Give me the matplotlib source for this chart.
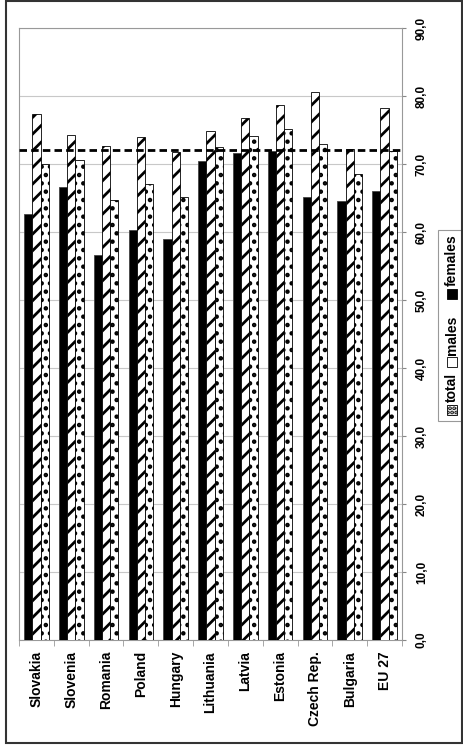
import matplotlib.pyplot as plt
import matplotlib.patches as mpatches
import numpy as np

# Data
countries = ['Slovakia', 'Slovenia', 'Romania', 'Poland', 'Hungary', 'Lithuania',
             'Latvia', 'Estonia', 'Czech Rep.', 'Bulgaria', 'EU 27']
females = [62.6, 66.6, 56.6, 60.3, 58.9, 70.4, 71.6, 71.9, 65.2, 64.6, 66.0]
males = [77.3, 74.3, 72.7, 74.0, 71.8, 74.8, 76.7, 78.7, 80.6, 72.2, 78.2]
total = [70.0, 70.6, 64.7, 67.1, 65.2, 72.5, 74.1, 75.2, 73.0, 68.5, 71.9]
target = 72.1
value_ticks = np.arange(0, 100, 10)
value_labels = [('%.1f' % v).replace('.', ',') for v in value_ticks]

plt.rcParams['font.family'] = ['Liberation Sans', 'DejaVu Sans']
plt.rcParams['font.weight'] = 'bold'
plt.rcParams['hatch.linewidth'] = 2.0

W, H = 464, 749
fig = plt.figure(figsize=(W / 100, H / 100), dpi=100)
ax = fig.add_axes([19 / W, 1 - 640 / H, 383 / W, 612 / H])

x = np.arange(len(countries))
w = 0.235
ax.bar(x - w, females, w, color='black', edgecolor='#444444', linewidth=0.6, zorder=3)
ax.bar(x, males, w, color='white', edgecolor='black', hatch='//', linewidth=0.6, zorder=3)
ax.bar(x + w, total, w, color='white', edgecolor='black', hatch='..', linewidth=0.6, zorder=3)

ax.axhline(target, color='black', linewidth=2.0, dashes=(2.7, 1.5), zorder=4)

ax.set_xlim(-0.5, len(countries) - 0.5)
ax.set_ylim(0, 90)

# value axis on the right
ax.yaxis.tick_right()
ax.set_yticks(value_ticks)
ax.set_yticklabels(value_labels, rotation=90, va='center', ha='left', fontsize=8.5)
ax.tick_params(axis='y', length=3, color='#888888', pad=7)
ax.grid(axis='y', color='#c8c8c8', linewidth=0.8, zorder=0)

# categories
ax.set_xticks(x)
ax.set_xticklabels(countries, rotation=90, fontsize=10)
ax.set_xticks(np.arange(len(countries) + 1) - 0.5, minor=True)
ax.tick_params(axis='x', which='major', length=0, pad=8)
ax.tick_params(axis='x', which='minor', length=4, color='#999999')

for s in ax.spines.values():
    s.set_color('#999999')
    s.set_linewidth(0.8)


# rotated legend, built by hand (pixel positions)
def fx(px):
    return px / W


def fy(py):
    return 1 - py / H


fig.patches.append(mpatches.Rectangle((fx(438), fy(421)), fx(25), 191 / H,
                                      transform=fig.transFigure, facecolor='white',
                                      edgecolor='#999999', linewidth=0.8))
entries = [('total', 'white', '....', 410, 387), ('males', 'white', None, 362, 335),
           ('females', 'black', None, 294, 260)]
for label, fc, hatch, icon_y, text_y in entries:
    fig.patches.append(mpatches.Rectangle((fx(447), fy(icon_y + 5)), fx(10), 10 / H,
                                          transform=fig.transFigure, facecolor=fc,
                                          edgecolor='black', hatch=hatch, linewidth=0.6))
    fig.text(fx(452), fy(text_y), label, rotation=90, ha='center', va='center', fontsize=10)

# outer border
fig.patches.append(mpatches.Rectangle((fx(6), fy(743)), fx(456), 742 / H,
                                      transform=fig.transFigure, facecolor='none',
                                      edgecolor='#333333', linewidth=1.5))

plt.savefig('out.png', dpi=100)
